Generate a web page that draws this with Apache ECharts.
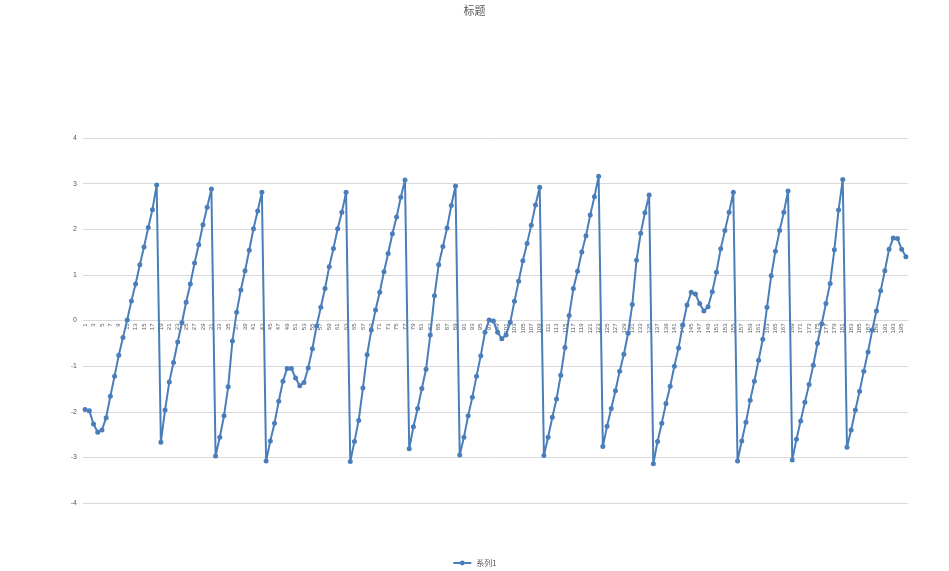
<!DOCTYPE html>
<html>
<head>
<meta charset="utf-8">
<script src="https://cdn.jsdelivr.net/npm/echarts@6/dist/echarts.min.js"></script>
<style>
  html, body { margin: 0; padding: 0; background: #fff; }
  #chart { width: 949px; height: 571px; }
</style>
</head>
<body>
<div id="chart"></div>
<script>
const chartTitle = '标题'
const seriesName = '系列1'
const values = [
  -1.95, -1.98, -2.27, -2.45, -2.40, -2.13, -1.66, -1.22, -0.76, -0.37,
  0.01, 0.43, 0.80, 1.22, 1.61, 2.04, 2.43, 2.97, -2.67, -1.96,
  -1.35, -0.92, -0.47, -0.05, 0.40, 0.80, 1.26, 1.66, 2.10, 2.48,
  2.88, -2.97, -2.56, -2.09, -1.45, -0.45, 0.18, 0.67, 1.09, 1.54,
  2.01, 2.40, 2.81, -3.08, -2.64, -2.25, -1.77, -1.33, -1.05, -1.05,
  -1.26, -1.43, -1.36, -1.04, -0.62, -0.12, 0.29, 0.70, 1.18, 1.58,
  2.01, 2.37, 2.81, -3.09, -2.65, -2.19, -1.48, -0.75, -0.21, 0.23,
  0.62, 1.07, 1.47, 1.90, 2.27, 2.70, 3.08, -2.81, -2.33, -1.93,
  -1.49, -1.07, -0.32, 0.54, 1.22, 1.62, 2.03, 2.52, 2.95, -2.95,
  -2.56, -2.09, -1.68, -1.22, -0.77, -0.26, 0.01, -0.01, -0.26, -0.40,
  -0.32, -0.04, 0.42, 0.86, 1.31, 1.69, 2.09, 2.53, 2.92, -2.96,
  -2.56, -2.12, -1.72, -1.20, -0.59, 0.11, 0.70, 1.08, 1.50, 1.86,
  2.31, 2.71, 3.16, -2.76, -2.32, -1.93, -1.54, -1.11, -0.74, -0.28,
  0.35, 1.32, 1.91, 2.36, 2.75, -3.14, -2.65, -2.25, -1.82, -1.44,
  -1.00, -0.60, -0.10, 0.34, 0.62, 0.58, 0.37, 0.21, 0.30, 0.63,
  1.06, 1.57, 1.97, 2.37, 2.81, -3.08, -2.64, -2.23, -1.75, -1.33,
  -0.87, -0.41, 0.29, 0.98, 1.52, 1.97, 2.37, 2.84, -3.06, -2.60,
  -2.20, -1.79, -1.40, -0.98, -0.50, -0.07, 0.37, 0.81, 1.55, 2.42,
  3.09, -2.78, -2.40, -1.96, -1.55, -1.11, -0.69, -0.21, 0.21, 0.65,
  1.09, 1.56, 1.81, 1.80, 1.56, 1.40
]
const categories = values.map((v, i) => String(i + 1))

var myChart = echarts.init(document.getElementById('chart'), null, { renderer: 'canvas' })

// grid is 365px tall, from -4 to 4, so zero sits 182.5px above the bottom
var option = {
  animation: false,
  title: {
    text: chartTitle,
    left: 'center',
    top: 0,
    textStyle: { fontSize: 11, fontWeight: 'normal', color: '#595959', fontFamily: 'Noto Sans CJK SC' }
  },
  legend: {
    data: [seriesName],
    bottom: -1,
    left: 'center',
    itemWidth: 18,
    itemHeight: 6,
    textStyle: { fontSize: 8, color: '#595959', fontFamily: 'Noto Sans CJK SC' }
  },
  grid: {
    left: 83,
    right: 41,
    top: 138,
    bottom: 68,
    containLabel: false
  },
  xAxis: {
    type: 'category',
    data: categories,
    boundaryGap: true,
    position: 'bottom',
    offset: -182.5,
    axisLine: { onZero: false, lineStyle: { color: '#d9d9d9', width: 1 } },
    axisTick: { show: false },
    axisLabel: {
      interval: 1,
      rotate: 90,
      fontSize: 6,
      color: '#595959',
      margin: 3
    },
    splitLine: { show: false }
  },
  yAxis: {
    type: 'value',
    min: -4,
    max: 4,
    interval: 1,
    axisLine: { show: false },
    axisTick: { show: false },
    axisLabel: { fontSize: 7, color: '#595959', margin: 6 },
    splitLine: { lineStyle: { color: '#d9d9d9', width: 1 } }
  },
  series: [{
    name: seriesName,
    type: 'line',
    data: values,
    symbol: 'circle',
    symbolSize: 5,
    showAllSymbol: true,
    lineStyle: { color: '#4a7ebb', width: 2 },
    itemStyle: { color: '#4a7ebb' }
  }]
}

myChart.setOption(option)
window.addEventListener('resize', myChart.resize)
</script>
</body>
</html>
